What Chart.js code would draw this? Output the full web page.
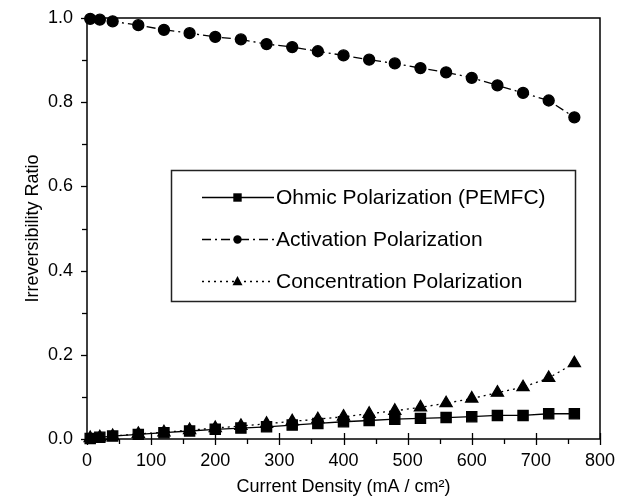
<!DOCTYPE html>
<html>
<head>
<meta charset="utf-8">
<script src="https://cdn.jsdelivr.net/npm/chart.js@4/dist/chart.umd.min.js"></script>
<style>
  body { margin: 0; background: #fff; }
</style>
</head>
<body>
<canvas id="myChart" width="627" height="500"></canvas>
<script>
// current density (mA / cm2) and irreversibility ratio of each loss
const currentDensity = [5, 20, 40, 80, 120, 160, 200, 240, 280, 320, 360, 400, 440, 480, 520, 560, 600, 640, 680, 720, 760];
const ohmicRatio = [0.001, 0.004, 0.007, 0.011, 0.015, 0.019, 0.023, 0.026, 0.029, 0.033, 0.037, 0.041, 0.044, 0.047, 0.049, 0.051, 0.053, 0.056, 0.056, 0.060, 0.060];
const activationRatio = [0.998, 0.996, 0.992, 0.983, 0.972, 0.964, 0.955, 0.949, 0.938, 0.931, 0.921, 0.911, 0.901, 0.892, 0.881, 0.871, 0.858, 0.840, 0.822, 0.804, 0.764];
const concentrationRatio = [0.002, 0.004, 0.007, 0.012, 0.016, 0.021, 0.026, 0.031, 0.036, 0.042, 0.047, 0.053, 0.060, 0.067, 0.075, 0.085, 0.096, 0.110, 0.123, 0.145, 0.180];

const seriesNames = ["Ohmic Polarization (PEMFC)", "Activation Polarization", "Concentration Polarization"];
const xTickValues = [0, 100, 200, 300, 400, 500, 600, 700, 800];
const yTickValues = [0.0, 0.2, 0.4, 0.6, 0.8, 1.0];

const FONT = "'Liberation Sans', Arial, Helvetica, sans-serif";
Chart.defaults.font.family = FONT;
Chart.defaults.font.size = 18;
Chart.defaults.color = "#000";

function toPoints(ys) {
  return currentDensity.map((x, i) => ({ x: x, y: ys[i] }));
}

// marker drawing shared by the legend
function drawMarker(ctx, style, x, y, r) {
  ctx.beginPath();
  if (style === "rect") {
    ctx.rect(x - r, y - r, 2 * r, 2 * r);
  } else if (style === "triangle") {
    ctx.moveTo(x, y - r * 1.1);
    ctx.lineTo(x + r, y + r * 0.75);
    ctx.lineTo(x - r, y + r * 0.75);
    ctx.closePath();
  } else {
    ctx.arc(x, y, r, 0, Math.PI * 2);
  }
  ctx.fillStyle = "#000";
  ctx.fill();
}

// box, ticks and the inset legend
const framePlugin = {
  id: "frame",
  afterDatasetsDraw(chart) {
    const ctx = chart.ctx;
    const a = chart.chartArea;
    const xs = chart.scales.x;
    const ys = chart.scales.y;
    ctx.save();
    ctx.strokeStyle = "#000";
    ctx.lineWidth = 1.5;
    ctx.setLineDash([]);
    ctx.strokeRect(a.left, a.top, a.right - a.left, a.bottom - a.top);

    ctx.lineWidth = 1.3;
    for (let v = 0; v <= 800; v += 50) {
      const px = Math.round(xs.getPixelForValue(v)) + 0.5;
      const major = v % 100 === 0;
      ctx.beginPath();
      ctx.moveTo(px, major ? a.bottom - 6 : a.bottom);
      ctx.lineTo(px, a.bottom + (major ? 6 : 5));
      ctx.stroke();
    }
    for (let i = 0; i <= 10; i++) {
      const py = Math.round(ys.getPixelForValue(i / 10)) + 0.5;
      ctx.beginPath();
      ctx.moveTo(a.left - (i % 2 === 0 ? 6 : 5), py);
      ctx.lineTo(a.left, py);
      ctx.stroke();
    }

    // legend
    const box = { left: 171.5, top: 170.5, right: 575.5, bottom: 301.5 };
    ctx.fillStyle = "#fff";
    ctx.fillRect(box.left, box.top, box.right - box.left, box.bottom - box.top);
    ctx.strokeStyle = "#222";
    ctx.lineWidth = 1.5;
    ctx.strokeRect(box.left, box.top, box.right - box.left, box.bottom - box.top);

    const rows = [197, 239, 281];
    chart.data.datasets.forEach((ds, i) => {
      const y = rows[i] + 0.5;
      ctx.strokeStyle = "#000";
      ctx.lineWidth = 1.3;
      ctx.setLineDash(ds.borderDash || []);
      ctx.beginPath();
      ctx.moveTo(202, y);
      ctx.lineTo(274, y);
      ctx.stroke();
      ctx.setLineDash([]);
      drawMarker(ctx, ds.pointStyle, 237.5, y, ds.pointStyle === "triangle" ? 5 : 4.2);
      ctx.fillStyle = "#000";
      ctx.font = "21px " + FONT;
      ctx.textAlign = "left";
      ctx.textBaseline = "middle";
      ctx.fillText(ds.label, 276, y + 1);
    });
    ctx.restore();
  }
};

new Chart("myChart", {
  type: "line",
  data: {
    datasets: [{
      label: seriesNames[0],
      data: toPoints(ohmicRatio),
      borderColor: "#000",
      backgroundColor: "#000",
      borderWidth: 1.3,
      pointStyle: "rect",
      pointRadius: 7.2,
      pointHoverRadius: 7.2,
      clip: false
    }, {
      label: seriesNames[1],
      data: toPoints(activationRatio),
      borderColor: "#000",
      backgroundColor: "#000",
      borderWidth: 1.3,
      borderDash: [9, 4, 2, 4],
      pointStyle: "circle",
      pointRadius: 5.5,
      pointHoverRadius: 5.5,
      clip: false
    }, {
      label: seriesNames[2],
      data: toPoints(concentrationRatio),
      borderColor: "#000",
      backgroundColor: "#000",
      borderWidth: 1.3,
      borderDash: [2, 4],
      pointStyle: "triangle",
      pointRadius: 7,
      pointHoverRadius: 7,
      clip: false
    }]
  },
  options: {
    responsive: false,
    animation: false,
    layout: { padding: { top: 18, right: 27, left: 0, bottom: 0 } },
    plugins: {
      legend: { display: false },
      tooltip: { enabled: false }
    },
    scales: {
      x: {
        type: "linear",
        min: 0,
        max: 800,
        grid: { display: false, drawTicks: false },
        border: { display: false },
        afterBuildTicks: (axis) => { axis.ticks = xTickValues.map(v => ({ value: v })); },
        afterFit: (axis) => {
          axis.height = 61;
          axis.paddingLeft = 0;
          axis.paddingRight = 0;
        },
        ticks: { padding: 11, maxRotation: 0, font: { size: 18 } },
        title: {
          display: true,
          text: "Current Density (mA / cm\u00B2)",
          font: { size: 18 },
          padding: { top: 0, bottom: 2 }
        }
      },
      y: {
        type: "linear",
        min: 0,
        max: 1.0,
        grid: { display: false, drawTicks: false },
        border: { display: false },
        afterBuildTicks: (axis) => { axis.ticks = yTickValues.map(v => ({ value: v })); },
        afterFit: (axis) => {
          axis.width = 87;
          axis.paddingTop = 0;
          axis.paddingBottom = 0;
        },
        ticks: { padding: 14, font: { size: 18 }, callback: (v) => Number(v).toFixed(1) },
        title: {
          display: true,
          text: "Irreversibility Ratio",
          font: { size: 18 },
          padding: { top: 22, bottom: 0 }
        }
      }
    }
  },
  plugins: [framePlugin]
});
</script>
</body>
</html>
